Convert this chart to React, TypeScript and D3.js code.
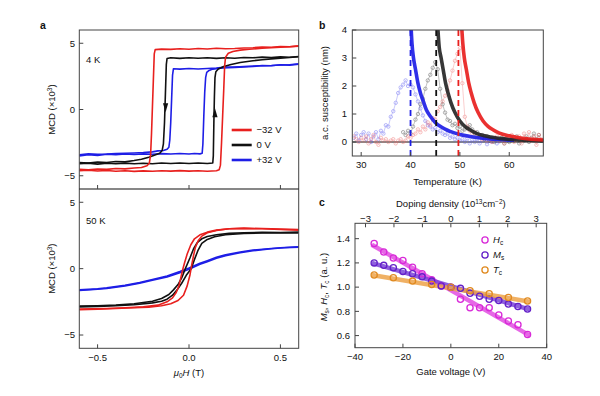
import React from 'react';
import * as d3 from 'd3';

type P = [number, number];

// ---------- panel a : hysteresis loops, [mu0H (T), MCD (x10^3)] ----------
const red4Down: P[] = [[0.6,4.8],[0.55,4.74],[0.5,4.76],[0.45,4.7],[0.4,4.72],[0.35,4.66],[0.3,4.64],[0.25,4.6],[0.2,4.58],[0.15,4.62],[0.1,4.57],[0.05,4.6],[0,4.55],[-0.05,4.58],[-0.1,4.54],[-0.15,4.56],[-0.185,4.52],[-0.19,4.2],[-0.195,2.2],[-0.2,0.2],[-0.205,-1.8],[-0.21,-3.4],[-0.217,-4.05],[-0.23,-4.25],[-0.26,-4.38],[-0.3,-4.42],[-0.35,-4.48],[-0.4,-4.45],[-0.45,-4.52],[-0.5,-4.5],[-0.55,-4.55],[-0.6,-4.52]];
const red4Up: P[] = [[-0.6,-4.62],[-0.55,-4.58],[-0.5,-4.64],[-0.45,-4.6],[-0.4,-4.66],[-0.35,-4.62],[-0.3,-4.67],[-0.25,-4.63],[-0.2,-4.66],[-0.15,-4.62],[-0.1,-4.65],[-0.05,-4.61],[0,-4.65],[0.05,-4.62],[0.1,-4.66],[0.15,-4.62],[0.165,-4.55],[0.172,-4.2],[0.178,-2.5],[0.184,-0.5],[0.19,1.5],[0.195,3.3],[0.2,3.95],[0.215,4.25],[0.24,4.38],[0.28,4.48],[0.33,4.55],[0.4,4.62],[0.45,4.66],[0.5,4.7],[0.55,4.74],[0.6,4.78]];
const black4Down: P[] = [[0.6,4.0],[0.55,3.94],[0.5,3.97],[0.45,3.92],[0.4,3.95],[0.35,3.9],[0.3,3.92],[0.25,3.87],[0.2,3.9],[0.15,3.86],[0.1,3.9],[0.05,3.87],[0,3.9],[-0.05,3.86],[-0.1,3.9],[-0.12,3.85],[-0.124,3.4],[-0.129,1.2],[-0.134,-1.0],[-0.14,-2.6],[-0.147,-3.1],[-0.16,-3.3],[-0.19,-3.45],[-0.22,-3.6],[-0.26,-3.75],[-0.3,-3.85],[-0.35,-3.95],[-0.4,-3.92],[-0.45,-4.0],[-0.5,-3.97],[-0.55,-4.05],[-0.6,-4.0]];
const black4Up: P[] = [[-0.6,-4.1],[-0.55,-4.05],[-0.5,-4.12],[-0.45,-4.06],[-0.4,-4.1],[-0.35,-4.05],[-0.3,-4.1],[-0.25,-4.06],[-0.2,-4.09],[-0.15,-4.04],[-0.1,-4.08],[-0.05,-4.04],[0,-4.08],[0.05,-4.04],[0.1,-4.07],[0.13,-4.04],[0.133,-3.5],[0.136,-1.0],[0.139,1.0],[0.142,2.4],[0.147,2.85],[0.16,3.05],[0.19,3.25],[0.23,3.4],[0.28,3.55],[0.35,3.68],[0.4,3.75],[0.45,3.82],[0.5,3.88],[0.55,3.92],[0.6,3.98]];
const blue4Down: P[] = [[0.6,3.42],[0.55,3.35],[0.5,3.38],[0.45,3.3],[0.4,3.32],[0.35,3.25],[0.3,3.22],[0.25,3.18],[0.2,3.2],[0.15,3.12],[0.1,3.1],[0.05,3.06],[0,3.1],[-0.05,3.05],[-0.085,3.08],[-0.09,2.6],[-0.095,0.8],[-0.1,-1.0],[-0.105,-2.3],[-0.11,-2.85],[-0.12,-3.0],[-0.14,-3.1],[-0.17,-3.12],[-0.2,-3.2],[-0.25,-3.25],[-0.3,-3.28],[-0.35,-3.3],[-0.4,-3.32],[-0.45,-3.36],[-0.5,-3.38],[-0.55,-3.35],[-0.6,-3.42]];
const blue4Up: P[] = [[-0.6,-3.5],[-0.55,-3.42],[-0.5,-3.46],[-0.45,-3.38],[-0.4,-3.42],[-0.35,-3.36],[-0.3,-3.4],[-0.25,-3.35],[-0.2,-3.38],[-0.15,-3.33],[-0.1,-3.36],[-0.05,-3.32],[0,-3.36],[0.03,-3.32],[0.06,-3.35],[0.072,-3.3],[0.076,-2.6],[0.081,-0.5],[0.086,1.3],[0.091,2.4],[0.097,2.8],[0.11,2.95],[0.13,3.05],[0.16,3.1],[0.2,3.15],[0.25,3.2],[0.3,3.25],[0.35,3.28],[0.4,3.3],[0.45,3.32],[0.5,3.36],[0.55,3.38],[0.6,3.45]];

const red50Down: P[] = [[0.6,2.9],[0.5,2.95],[0.4,3.0],[0.3,3.02],[0.22,3.0],[0.15,2.9],[0.1,2.75],[0.06,2.55],[0.03,2.25],[0.01,1.8],[-0.01,1.1],[-0.025,0.4],[-0.035,-0.1],[-0.045,-0.7],[-0.055,-1.3],[-0.07,-1.8],[-0.09,-2.2],[-0.12,-2.5],[-0.17,-2.75],[-0.25,-2.88],[-0.35,-2.95],[-0.45,-3.0],[-0.6,-3.05]];
const red50Up: P[] = [[-0.6,-3.1],[-0.5,-3.05],[-0.4,-3.0],[-0.3,-2.95],[-0.22,-2.9],[-0.15,-2.8],[-0.1,-2.65],[-0.06,-2.4],[-0.03,-2.0],[-0.01,-1.3],[0.005,-0.5],[0.015,0.3],[0.025,1.0],[0.035,1.6],[0.05,2.1],[0.07,2.45],[0.1,2.7],[0.15,2.88],[0.22,3.0],[0.3,3.05],[0.4,3.02],[0.5,2.98],[0.6,2.95]];
const black50Down: P[] = [[0.6,2.75],[0.5,2.72],[0.4,2.74],[0.3,2.7],[0.22,2.66],[0.15,2.55],[0.1,2.42],[0.07,2.25],[0.045,1.95],[0.025,1.5],[0.005,0.8],[-0.02,0.0],[-0.04,-0.7],[-0.06,-1.2],[-0.085,-1.6],[-0.11,-1.95],[-0.15,-2.25],[-0.2,-2.45],[-0.3,-2.65],[-0.4,-2.75],[-0.5,-2.8],[-0.6,-2.82]];
const black50Up: P[] = [[-0.6,-2.88],[-0.5,-2.84],[-0.4,-2.8],[-0.3,-2.72],[-0.2,-2.58],[-0.15,-2.45],[-0.12,-2.3],[-0.09,-2.0],[-0.065,-1.6],[-0.04,-1.1],[-0.015,-0.5],[0.012,0.0],[0.03,0.7],[0.05,1.4],[0.07,1.9],[0.1,2.2],[0.14,2.4],[0.2,2.55],[0.3,2.65],[0.4,2.68],[0.5,2.7],[0.6,2.68]];
const blue50Up: P[] = [[-0.6,-1.65],[-0.5,-1.55],[-0.45,-1.5],[-0.35,-1.3],[-0.27,-1.1],[-0.2,-0.88],[-0.12,-0.62],[-0.05,-0.3],[0,-0.05],[0.06,0.33],[0.1,0.52],[0.15,0.78],[0.2,0.98],[0.28,1.2],[0.35,1.35],[0.45,1.5],[0.52,1.58],[0.6,1.62]];
const blue50Down: P[] = [[0.6,1.65],[0.5,1.58],[0.45,1.52],[0.35,1.4],[0.28,1.25],[0.2,1.05],[0.15,0.86],[0.1,0.6],[0.06,0.4],[0,0.05],[-0.05,-0.22],[-0.12,-0.55],[-0.2,-0.82],[-0.27,-1.05],[-0.35,-1.25],[-0.45,-1.45],[-0.5,-1.52],[-0.6,-1.6]];

const arrows4K = [{ h: -0.128, v: -0.2, dir: 1 }, { h: 0.142, v: 0.1, dir: -1 }];
const legendA = ['\u221232 V', '0 V', '+32 V'];
const ticksAX = [-0.5, 0, 0.5];
const ticksAY = [-5, 0, 5];

// ---------- panel b : a.c. susceptibility, [T (K), nm] ----------
const blueScatter: P[] = [[28.5,0.15],[29,0.3],[29.5,0.05],[30,0.25],[30.5,0.35],[31,0.1],[31.5,0.3],[32,0.0],[32.5,0.2],[33,0.35],[33.5,0.1],[34,0.4],[34.5,0.3],[35,0.6],[35.5,0.55],[36,0.9],[36.5,1.1],[37,1.4],[37.5,1.75],[38,1.95],[38.5,2.05],[39,2.2],[39.5,2.0],[40,2.05],[40.5,1.95],[41,1.7],[41.5,1.45],[42,1.2],[42.5,0.95],[43,0.75],[43.5,0.6],[44,0.55],[44.5,0.45],[45,0.5],[45.5,0.35],[46,0.4],[46.5,0.3],[47,0.25],[47.5,0.3],[48,0.15],[48.5,0.2],[49,0.1],[49.5,0.15],[50,0.05],[50.5,0.1],[51,0.0],[51.5,0.12],[52,-0.05],[52.5,0.08],[53,0.0],[53.5,0.1],[54,-0.05],[54.5,0.05],[55,0.1],[55.5,-0.08],[56,0.05],[56.5,0.0],[57,0.08],[57.5,-0.05],[58,0.02]];
const blackScatter: P[] = [[38.5,0.35],[39,0.25],[39.5,0.4],[40,0.3],[40.5,0.55],[41,0.8],[41.5,1.0],[42,1.35],[42.5,1.55],[43,1.9],[43.5,2.2],[44,2.4],[44.5,2.65],[45,2.85],[45.5,2.6],[46,1.9],[46.5,1.35],[47,1.05],[47.5,0.8],[48,0.75],[48.5,0.6],[49,0.65],[49.5,0.5],[50,0.55],[50.5,0.4],[51,0.45],[51.5,0.5],[52,0.6],[52.5,0.45],[53,0.3],[53.5,0.35],[54,0.2],[54.5,0.25],[55,0.1],[55.5,0.2],[56,0.05],[56.5,0.15],[57,0.0],[57.5,0.1],[58,0.05],[58.5,0.15],[59,-0.05],[59.5,0.1],[60,0.0],[60.5,0.12],[61,0.05],[61.5,0.2],[62,-0.05],[62.5,0.1],[63,0.05],[63.5,0.2],[64,0.0],[64.5,0.15],[65,0.3],[65.5,0.1],[66,0.25],[66.5,0.05]];
const redScatter: P[] = [[28.5,0.2],[29,0.1],[29.5,0.0],[30,0.15],[30.5,0.05],[31,0.2],[31.5,-0.05],[32,0.1],[32.5,0.25],[33,0.0],[33.5,-0.1],[34,0.15],[34.5,0.05],[35,0.1],[35.5,0.0],[36,0.05],[36.5,0.1],[37,-0.05],[37.5,0.05],[38,0.1],[38.5,0.0],[39,0.05],[39.5,0.2],[40,0.15],[40.5,0.25],[41,0.3],[41.5,0.45],[42,0.35],[42.5,0.55],[43,0.45],[43.5,0.7],[44,0.6],[44.5,0.85],[45,0.8],[45.5,1.1],[46,1.25],[46.5,1.45],[47,1.65],[47.5,1.85],[48,2.2],[48.5,2.55],[49,2.9],[49.5,3.15],[50,3.35],[50.5,2.1],[51,0.9],[51.5,0.55],[52,0.4],[52.5,0.3],[53,0.35],[53.5,0.2],[54,0.25],[54.5,0.1],[55,0.2],[55.5,0.05],[56,0.15],[56.5,0.0],[57,0.1],[57.5,0.2],[58,0.05],[58.5,0.1],[59,-0.05],[59.5,0.15],[60,0.1],[60.5,0.25],[61,0.0],[61.5,0.1],[62,0.2],[62.5,-0.05],[63,0.3],[63.5,0.1],[64,0.35],[64.5,0.05],[65,0.2],[65.5,-0.1],[66,0.25],[66.5,0.1]];
const blueFit: P[] = [[40.05,4.3],[40.3,3.5],[40.6,3.0],[41,2.6],[41.5,2.1],[42,1.75],[42.6,1.45],[43.2,1.15],[44,0.92],[45,0.7],[46,0.56],[47,0.46],[48,0.38],[50,0.27],[52,0.2],[55,0.13],[58,0.09],[61,0.06]];
const blackFit: P[] = [[45.45,4.3],[45.8,3.4],[46.2,3.0],[46.6,2.6],[47.1,2.1],[47.6,1.75],[48.2,1.4],[49,1.05],[50,0.75],[51,0.56],[52,0.44],[53.5,0.3],[55,0.22],[58,0.13],[61,0.08],[64,0.06],[67,0.04]];
const redFit: P[] = [[50.3,4.3],[50.6,3.5],[50.9,3.0],[51.3,2.6],[51.8,2.1],[52.3,1.75],[52.9,1.4],[53.7,1.05],[54.7,0.75],[55.7,0.56],[56.7,0.44],[58,0.32],[60,0.22],[62,0.15],[64,0.11],[67,0.07]];
const curieT = [40.0, 45.2, 49.7];
const ticksBX = [30, 40, 50, 60];
const ticksBY = [0, 1, 2, 3, 4];

// ---------- panel c : normalised parameters vs gate voltage ----------
const gateV = [-32, -28, -24, -20, -16, -12, -8, -4, 0, 4, 8, 12, 16, 20, 24, 28, 32];
const hcVals = [1.36, 1.29, 1.24, 1.22, 1.165, 1.11, 1.06, 1.01, 1.0, 0.9, 0.83, 0.83, 0.83, 0.77, 0.72, 0.69, 0.61];
const msVals = [1.2, 1.18, 1.16, 1.13, 1.11, 1.085, 1.05, 1.01, 1.0, 0.99, 0.95, 0.925, 0.9, 0.89, 0.86, 0.84, 0.82];
const tcGateV = [-32, -24, -16, -8, 0, 8, 16, 24, 32];
const tcVals = [1.1, 1.077, 1.05, 1.022, 1.0, 0.97, 0.945, 0.915, 0.885];
const hcFit: P[] = [[-33, 1.35], [33, 0.6]];
const msFit: P[] = [[-33, 1.2], [33, 0.815]];
const tcFit: P[] = [[-33, 1.1], [33, 0.88]];
const ticksCX = [-40, -20, 0, 20, 40];
const ticksCTop = [-3, -2, -1, 0, 1, 2, 3];
const ticksCY = [0.6, 0.8, 1.0, 1.2, 1.4];

const FF = '"Liberation Sans", Arial, Helvetica, sans-serif';
const RED = '#e8201e';
const BLACK = '#111111';
const BLUE = '#1e1ee6';
const FRAME = '#444';
const minus = (s: string) => s.replace('-', '\u2212');

const xA = d3.scaleLinear().domain([-0.6, 0.6]).range([79.3, 298.7]);
const yA4 = d3.scaleLinear().domain([-6, 6]).range([189, 30]);
const yA50 = d3.scaleLinear().domain([-6, 6]).range([348.3, 189]);
const xB = d3.scaleLinear().domain([28.2, 66.9]).range([352.3, 543.3]);
const yB = d3.scaleLinear().domain([-0.5, 4]).range([156, 30]);
const xC = d3.scaleLinear().domain([-40, 40]).range([355, 546.7]);
const xCTop = d3.scaleLinear().domain([-3.37, 3.37]).range([355, 546.7]);
const yC = d3.scaleLinear().domain([0.5, 1.527]).range([347.7, 223.3]);

const lineOf = (x: d3.ScaleLinear<number, number>, y: d3.ScaleLinear<number, number>) =>
  d3.line<P>().x(d => x(d[0])).y(d => y(d[1]));

const Loop = ({ y, down, up, color }: { y: d3.ScaleLinear<number, number>; down: P[]; up: P[]; color: string }) => {
  const l = lineOf(xA, y);
  return (
    <g fill="none" stroke={color} strokeWidth={1.6} strokeLinejoin="round">
      <path d={l(down) || ''} />
      <path d={l(up) || ''} />
    </g>
  );
};

const fmt1 = d3.format('.1f');

export default function App() {
  const lB = lineOf(xB, yB);
  const lC = lineOf(xC, yC);
  const scat = [
    { pts: blueScatter, c: '#5c5cf0' },
    { pts: blackScatter, c: '#444' },
    { pts: redScatter, c: '#ee6a6a' },
  ];
  const fits = [
    { pts: blueFit, c: BLUE },
    { pts: blackFit, c: '#262626' },
    { pts: redFit, c: RED },
  ];
  const cSeries = [
    { xs: gateV, vs: hcVals, fit: hcFit, line: '#e24ee2', c: '#d82ad8', name: 'H', sub: 'c' },
    { xs: gateV, vs: msVals, fit: msFit, line: '#7b44d8', c: '#6420c8', name: 'M', sub: 's' },
    { xs: tcGateV, vs: tcVals, fit: tcFit, line: '#eda34a', c: '#e08a20', name: 'T', sub: 'c' },
  ];

  return (
    <svg width={600} height={396} style={{ position: 'absolute', left: 0, top: 0, background: '#fff' }}
      fontFamily={FF} fontSize={9.5} fill="#111">
      <defs>
        <clipPath id="clipA4"><rect x={79.3} y={30} width={219.4} height={159} /></clipPath>
        <clipPath id="clipA50"><rect x={79.3} y={189} width={219.4} height={159.3} /></clipPath>
        <clipPath id="clipB"><rect x={352.3} y={30} width={191} height={126} /></clipPath>
      </defs>

      {/* ---------------- panel a ---------------- */}
      <text x={40} y={29} fontWeight="bold" fontSize={10.5}>a</text>
      <g clipPath="url(#clipA4)">
        <Loop y={yA4} down={blue4Down} up={blue4Up} color={BLUE} />
        <Loop y={yA4} down={black4Down} up={black4Up} color={BLACK} />
        <Loop y={yA4} down={red4Down} up={red4Up} color={RED} />
        {arrows4K.map((a, i) => {
          const x = xA(a.h), y = yA4(a.v);
          return <path key={i} d={`M${x},${y} L${x - 2.6},${y - 9 * a.dir} L${x + 2.6},${y - 9 * a.dir} Z`} fill={BLACK} />;
        })}
      </g>
      <g clipPath="url(#clipA50)">
        <Loop y={yA50} down={blue50Down} up={blue50Up} color={BLUE} />
        <Loop y={yA50} down={black50Down} up={black50Up} color={BLACK} />
        <Loop y={yA50} down={red50Down} up={red50Up} color={RED} />
      </g>
      <rect x={79.3} y={30} width={219.4} height={318.3} fill="none" stroke={FRAME} strokeWidth={1} />
      <line x1={79.3} x2={298.7} y1={189} y2={189} stroke={BLACK} strokeWidth={1.2} />
      {[yA4, yA50].map((y, k) => (
        <g key={k}>
          {ticksAY.map(t => (
            <g key={t}>
              <line x1={79.3} x2={83.3} y1={y(t)} y2={y(t)} stroke={FRAME} />
              <text x={75} y={y(t)} dy="0.35em" textAnchor="end">{minus(String(t))}</text>
            </g>
          ))}
          {ticksAX.map(t => (
            <line key={t} x1={xA(t)} x2={xA(t)} y1={k === 0 ? 189 : 348.3} y2={k === 0 ? 185 : 344.3} stroke={FRAME} />
          ))}
          <text transform={`translate(55,${(y(6) + y(-6)) / 2}) rotate(-90)`} textAnchor="middle">
            MCD (×10<tspan dy={-3.5} fontSize={6.5}>3</tspan><tspan dy={3.5}>)</tspan>
          </text>
        </g>
      ))}
      {ticksAX.map(t => (
        <text key={t} x={xA(t)} y={361} textAnchor="middle">{minus(fmt1(t))}</text>
      ))}
      <text x={xA(0)} y={376} textAnchor="middle">
        <tspan fontStyle="italic">μ</tspan><tspan fontSize={6.5} dy={2}>0</tspan>
        <tspan fontStyle="italic" dy={-2}>H</tspan> (T)
      </text>
      <text x={86} y={63}>4 K</text>
      <text x={86} y={224}>50 K</text>
      {legendA.map((s, i) => (
        <g key={s}>
          <line x1={231.7} x2={251.7} y1={130 + i * 15} y2={130 + i * 15} stroke={[RED, BLACK, BLUE][i]} strokeWidth={2.6} />
          <text x={256.5} y={130 + i * 15} dy="0.35em">{s}</text>
        </g>
      ))}

      {/* ---------------- panel b ---------------- */}
      <text x={319} y={29} fontWeight="bold" fontSize={10.5}>b</text>
      <line x1={352.3} x2={543.3} y1={yB(0)} y2={yB(0)} stroke={BLACK} strokeWidth={1} />
      <g clipPath="url(#clipB)">
        {scat.map((s, i) => (
          <g key={i} opacity={0.55}>
            <path d={lB(s.pts) || ''} fill="none" stroke={s.c} strokeWidth={0.6} />
            {s.pts.map((p, j) => (
              <circle key={j} cx={xB(p[0])} cy={yB(p[1])} r={1.7} fill="none" stroke={s.c} strokeWidth={0.8} />
            ))}
          </g>
        ))}
        {fits.map((f, i) => (
          <path key={i} d={d3.line<P>().x(d => xB(d[0])).y(d => yB(d[1])).curve(d3.curveMonotoneX)(f.pts) || ''}
            fill="none" stroke={f.c} strokeWidth={3.6} opacity={0.92} />
        ))}
        {curieT.map((t, i) => (
          <line key={t} x1={xB(t)} x2={xB(t)} y1={yB(-0.5)} y2={yB(4)} stroke={[BLUE, BLACK, RED][i]}
            strokeWidth={1.8} strokeDasharray="6,4" />
        ))}
      </g>
      <rect x={352.3} y={30} width={191} height={126} fill="none" stroke={FRAME} strokeWidth={1} />
      {ticksBY.map(t => (
        <g key={t}>
          <line x1={352.3} x2={356.3} y1={yB(t)} y2={yB(t)} stroke={FRAME} />
          <text x={347} y={yB(t)} dy="0.35em" textAnchor="end">{t}</text>
        </g>
      ))}
      {ticksBX.map(t => (
        <g key={t}>
          <line x1={xB(t)} x2={xB(t)} y1={156} y2={152} stroke={FRAME} />
          <text x={xB(t)} y={168} textAnchor="middle">{t}</text>
        </g>
      ))}
      <text x={xB(47.5)} y={185} textAnchor="middle">Temperature (K)</text>
      <text transform={`translate(328,${yB(1.75)}) rotate(-90)`} textAnchor="middle">a.c. susceptibility (nm)</text>

      {/* ---------------- panel c ---------------- */}
      <text x={319} y={206} fontWeight="bold" fontSize={10.5}>c</text>
      {cSeries.map((s, i) => (
        <path key={i} d={lC(s.fit) || ''} stroke={s.line} strokeWidth={4.5} strokeOpacity={0.85} fill="none" />
      ))}
      {cSeries.map((s, i) => (
        <g key={i}>
          {s.xs.map((v, j) => (
            <circle key={j} cx={xC(v)} cy={yC(s.vs[j])} r={3.1} fill="none" stroke={s.c} strokeWidth={1.3} />
          ))}
        </g>
      ))}
      <rect x={355} y={223.3} width={191.7} height={124.4} fill="none" stroke={FRAME} strokeWidth={1} />
      {ticksCY.map(t => (
        <g key={t}>
          <line x1={355} x2={359} y1={yC(t)} y2={yC(t)} stroke={FRAME} />
          <text x={350} y={yC(t)} dy="0.35em" textAnchor="end">{fmt1(t)}</text>
        </g>
      ))}
      {ticksCX.map(t => (
        <g key={t}>
          <line x1={xC(t)} x2={xC(t)} y1={347.7} y2={343.7} stroke={FRAME} />
          <text x={xC(t)} y={360} textAnchor="middle">{minus(String(t))}</text>
        </g>
      ))}
      {ticksCTop.map(t => (
        <g key={t}>
          <line x1={xCTop(t)} x2={xCTop(t)} y1={223.3} y2={227.3} stroke={FRAME} />
          <text x={xCTop(t)} y={221.5} textAnchor="middle">{minus(String(t))}</text>
        </g>
      ))}
      <text x={xC(0)} y={375} textAnchor="middle">Gate voltage (V)</text>
      <text x={xC(0)} y={207} textAnchor="middle">
        Doping density (10<tspan dy={-3.5} fontSize={6.5}>13</tspan><tspan dy={3.5}>cm</tspan>
        <tspan dy={-3.5} fontSize={6.5}>−2</tspan><tspan dy={3.5}>)</tspan>
      </text>
      <text transform={`translate(327,${yC(1.0)}) rotate(-90)`} textAnchor="middle">
        <tspan fontStyle="italic">M</tspan><tspan fontSize={6.5} dy={2}>s</tspan>
        <tspan dy={-2}>, </tspan><tspan fontStyle="italic">H</tspan><tspan fontSize={6.5} dy={2}>c</tspan>
        <tspan dy={-2}>, </tspan><tspan fontStyle="italic">T</tspan><tspan fontSize={6.5} dy={2}>c</tspan>
        <tspan dy={-2}> (a. u.)</tspan>
      </text>
      {cSeries.map((s, i) => (
        <g key={i}>
          <circle cx={485} cy={240 + i * 15} r={3.1} fill="none" stroke={s.c} strokeWidth={1.3} />
          <text x={493} y={240 + i * 15} dy="0.35em">
            <tspan fontStyle="italic">{s.name}</tspan><tspan fontSize={6.5} dy={2}>{s.sub}</tspan>
          </text>
        </g>
      ))}
    </svg>
  );
}
